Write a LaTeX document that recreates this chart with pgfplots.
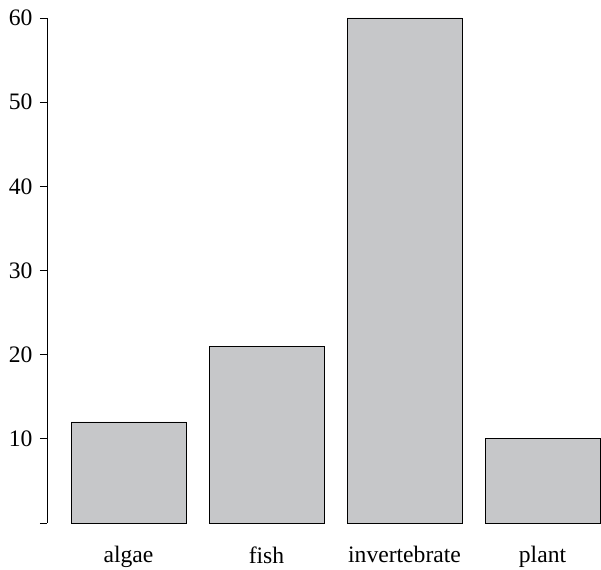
\documentclass[border=0pt]{standalone}
\usepackage{pgfplots}
\pgfplotsset{compat=1.18}
\usepackage{fontspec}
\setmainfont{Liberation Serif}
\usetikzlibrary{calc}
\definecolor{barfill}{RGB}{198,199,201}
\begin{document}
\begin{tikzpicture}
\begin{axis}[
  scale only axis,
  width=554pt, height=505pt,
  xmin=-0.5906, xmax=3.4239,
  ymin=0, ymax=60,
  axis lines*=left,
  x axis line style={draw=none},
  y axis line style={line width=0.9pt},
  xtick={0,1,2,3},
  xticklabels={algae,fish,invertebrate,plant},
  x tick style={draw=none},
  ytick={0,10,20,30,40,50,60},
  yticklabels={,10,20,30,40,50,60},
  y tick style={line width=0.9pt,black},
  tick align=outside,
  major tick length=7pt,
  /pgf/number format/assume math mode=true,
  tick label style={font=\fontsize{23.6}{28}\selectfont},
  xticklabel style={yshift=-13pt},
  yticklabel style={xshift=-4pt},
  clip=false,
]
\addplot[ybar, bar width=0.8333, fill=barfill, draw=black, line width=0.8pt]
  coordinates {(0,12) (1,21) (2,60) (3,10)};
\coordinate (O) at (rel axis cs:0,0);
\end{axis}
\pgfresetboundingbox
\path[use as bounding box] ($(O)+(-47pt,-46pt)$) rectangle ($(O)+(554pt,523pt)$);
\end{tikzpicture}
\end{document}
